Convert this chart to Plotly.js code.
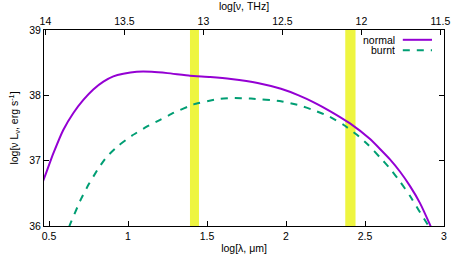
<!DOCTYPE html>
<html><head><meta charset="utf-8">
<script src="https://cdn.plot.ly/plotly-3.0.1.min.js"></script>
<style>body{margin:0;background:#fff}#c{width:463px;height:259px}</style>
</head><body><div id="c"></div>
<script>
// log wavelength (micron) and log luminosity
const normalX = [0.42, 0.472, 0.527, 0.59, 0.654, 0.717, 0.78, 0.844, 0.907, 0.97, 1.055, 1.15, 1.25, 1.392, 1.52, 1.652, 1.82, 1.968, 2.08, 2.179, 2.278, 2.405, 2.532, 2.658, 2.722, 2.785, 2.848, 2.911, 2.95];
const normalY = [36.42, 36.75, 37.11, 37.47, 37.73, 37.93, 38.09, 38.21, 38.29, 38.33, 38.36, 38.36, 38.34, 38.30, 38.28, 38.25, 38.19, 38.10, 38.00, 37.89, 37.76, 37.57, 37.33, 37.02, 36.83, 36.61, 36.35, 36.02, 35.80];
const burntX = [0.60, 0.629, 0.696, 0.749, 0.812, 0.865, 0.939, 1.023, 1.118, 1.20, 1.287, 1.413, 1.561, 1.652, 1.778, 1.968, 2.08, 2.179, 2.278, 2.363, 2.447, 2.521, 2.595, 2.658, 2.722, 2.785, 2.838, 2.90, 2.94];
const burntY = [35.78, 36.00, 36.38, 36.63, 36.88, 37.06, 37.23, 37.38, 37.52, 37.62, 37.73, 37.86, 37.94, 37.96, 37.95, 37.91, 37.85, 37.77, 37.67, 37.55, 37.40, 37.24, 37.05, 36.88, 36.68, 36.46, 36.25, 36.01, 35.85];
const bands = [[1.392, 1.449], [2.375, 2.44]];
const topTicks = [14, 13.5, 13, 12.5, 12, 11.5];
const logC = Math.log10(3e14); // log nu[Hz] = logC - log lambda[um]
const xRange = [0.468, 3];
const font = {family: 'Liberation Sans, Arial, sans-serif', size: 10.5, color: '#000'};

const traces = [
  {x: normalX, y: normalY, mode: 'lines', line: {color: '#9400d3', width: 2, shape: 'spline', smoothing: 0.4}, name: 'normal', showlegend: false, hoverinfo: 'skip'},
  {x: burntX, y: burntY, mode: 'lines', line: {color: '#009e73', width: 2, dash: '7px,7px', shape: 'spline', smoothing: 0.4}, name: 'burnt', showlegend: false, hoverinfo: 'skip'},
  {x: [logC - xRange[0], logC - xRange[1]], y: [36, 36], xaxis: 'x2', mode: 'lines', line: {width: 0}, opacity: 0, showlegend: false, hoverinfo: 'skip'}
];

const shapes = bands.map(b => ({type: 'rect', xref: 'x', yref: 'paper', x0: b[0], x1: b[1], y0: 0, y1: 1, fillcolor: '#eef540', line: {width: 0}, layer: 'below'}));
shapes.push({type: 'line', xref: 'paper', yref: 'paper', x0: 0.897, x1: 0.97, y0: 0.95, y1: 0.95, line: {color: '#9400d3', width: 2}});
shapes.push({type: 'line', xref: 'paper', yref: 'paper', x0: 0.897, x1: 0.97, y0: 0.897, y1: 0.897, line: {color: '#009e73', width: 2, dash: '7px,7px'}});

const layout = {
  width: 463, height: 259,
  margin: {l: 44, r: 19, t: 30, b: 33, pad: 0},
  paper_bgcolor: '#fff', plot_bgcolor: '#fff',
  font: font,
  showlegend: false,
  xaxis: {range: xRange, tickvals: [0.5, 1, 1.5, 2, 2.5, 3], ticktext: ['0.5','1','1.5','2','2.5','3'], ticks: 'inside', ticklen: 5, tickcolor: '#000', showline: true, linecolor: '#000', linewidth: 1, showgrid: false, zeroline: false,
    title: {text: 'log[λ, μm]', font: font, standoff: 4}},
  xaxis2: {overlaying: 'x', side: 'top', range: [logC - xRange[0], logC - xRange[1]], tickvals: topTicks, ticktext: topTicks.map(String), ticks: 'inside', ticklen: 5, tickcolor: '#000', showline: true, linecolor: '#000', linewidth: 1, showgrid: false, zeroline: false,
    title: {text: 'log[ν, THz]', font: font, standoff: 4}},
  yaxis: {range: [36, 39], tickvals: [36, 37, 38, 39], ticks: 'inside', ticklen: 5, tickcolor: '#000', showline: true, linecolor: '#000', linewidth: 1, mirror: 'ticks', showgrid: false, zeroline: false,
    title: {text: 'log[ν L<sub>ν</sub>, erg s<sup>-1</sup>]', font: font, standoff: 8}},
  shapes: shapes,
  annotations: [
    {xref: 'paper', yref: 'paper', x: 0.883, y: 0.95, xanchor: 'right', yanchor: 'middle', text: 'normal', showarrow: false, font: font, height: 10},
    {xref: 'paper', yref: 'paper', x: 0.883, y: 0.897, xanchor: 'right', yanchor: 'middle', text: 'burnt', showarrow: false, font: font, height: 10}
  ]
};
Plotly.newPlot('c', traces, layout, {staticPlot: true, displayModeBar: false});
</script></body></html>
